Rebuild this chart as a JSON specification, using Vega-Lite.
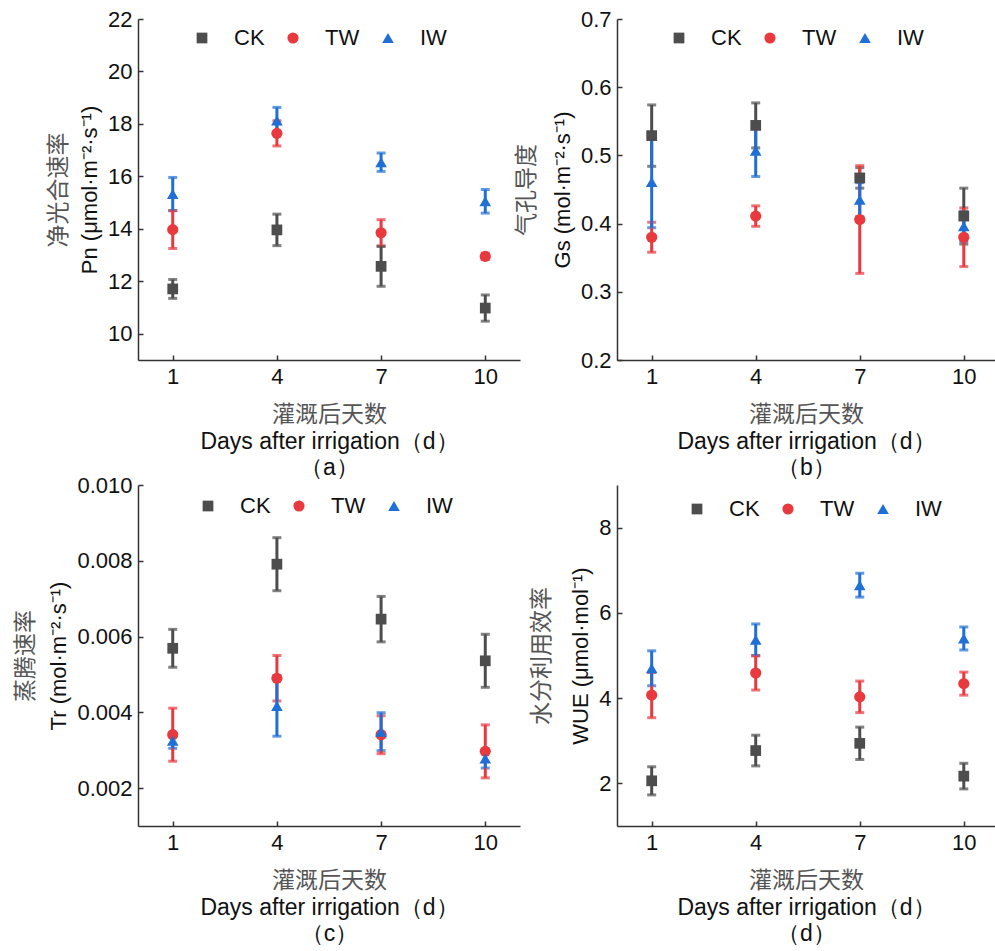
{
  "$schema": "https://vega.github.io/schema/vega-lite/v6.json",
  "padding": {"left": 14, "top": 8, "right": 0, "bottom": 0},
  "background": "white",
  "datasets": {
    "a": [
      {"day": 1, "group": "CK", "mean": 11.71, "sd": 0.36},
      {"day": 4, "group": "CK", "mean": 13.96, "sd": 0.6},
      {"day": 7, "group": "CK", "mean": 12.57, "sd": 0.76},
      {"day": 10, "group": "CK", "mean": 10.98, "sd": 0.5},
      {"day": 1, "group": "TW", "mean": 13.97, "sd": 0.72},
      {"day": 4, "group": "TW", "mean": 17.64, "sd": 0.48},
      {"day": 7, "group": "TW", "mean": 13.85, "sd": 0.5},
      {"day": 10, "group": "TW", "mean": 12.95, "sd": 0.12},
      {"day": 1, "group": "IW", "mean": 15.33, "sd": 0.63},
      {"day": 4, "group": "IW", "mean": 18.13, "sd": 0.5},
      {"day": 7, "group": "IW", "mean": 16.54, "sd": 0.35},
      {"day": 10, "group": "IW", "mean": 15.05, "sd": 0.45}
    ],
    "b": [
      {"day": 1, "group": "CK", "mean": 0.529, "sd": 0.045},
      {"day": 4, "group": "CK", "mean": 0.544, "sd": 0.033},
      {"day": 7, "group": "CK", "mean": 0.467, "sd": 0.015},
      {"day": 10, "group": "CK", "mean": 0.411, "sd": 0.041},
      {"day": 1, "group": "TW", "mean": 0.380, "sd": 0.022},
      {"day": 4, "group": "TW", "mean": 0.411, "sd": 0.015},
      {"day": 7, "group": "TW", "mean": 0.406, "sd": 0.079},
      {"day": 10, "group": "TW", "mean": 0.380, "sd": 0.043},
      {"day": 1, "group": "IW", "mean": 0.461, "sd": 0.067},
      {"day": 4, "group": "IW", "mean": 0.507, "sd": 0.038},
      {"day": 7, "group": "IW", "mean": 0.435, "sd": 0.025},
      {"day": 10, "group": "IW", "mean": 0.396, "sd": 0.022}
    ],
    "c": [
      {"day": 1, "group": "CK", "mean": 0.00569, "sd": 0.0005},
      {"day": 4, "group": "CK", "mean": 0.00791, "sd": 0.0007},
      {"day": 7, "group": "CK", "mean": 0.00646, "sd": 0.0006},
      {"day": 10, "group": "CK", "mean": 0.00536, "sd": 0.0007},
      {"day": 1, "group": "TW", "mean": 0.00341, "sd": 0.0007},
      {"day": 4, "group": "TW", "mean": 0.0049, "sd": 0.0006},
      {"day": 7, "group": "TW", "mean": 0.00341, "sd": 0.0005},
      {"day": 10, "group": "TW", "mean": 0.00297, "sd": 0.0007},
      {"day": 1, "group": "IW", "mean": 0.00325, "sd": 0.0002},
      {"day": 4, "group": "IW", "mean": 0.00417, "sd": 0.0008},
      {"day": 7, "group": "IW", "mean": 0.00349, "sd": 0.0005},
      {"day": 10, "group": "IW", "mean": 0.00278, "sd": 0.00025}
    ],
    "d": [
      {"day": 1, "group": "CK", "mean": 2.06, "sd": 0.33},
      {"day": 4, "group": "CK", "mean": 2.77, "sd": 0.36},
      {"day": 7, "group": "CK", "mean": 2.94, "sd": 0.38},
      {"day": 10, "group": "CK", "mean": 2.17, "sd": 0.3},
      {"day": 1, "group": "TW", "mean": 4.07, "sd": 0.53},
      {"day": 4, "group": "TW", "mean": 4.59, "sd": 0.4},
      {"day": 7, "group": "TW", "mean": 4.03, "sd": 0.37},
      {"day": 10, "group": "TW", "mean": 4.34, "sd": 0.27},
      {"day": 1, "group": "IW", "mean": 4.70, "sd": 0.41},
      {"day": 4, "group": "IW", "mean": 5.37, "sd": 0.37},
      {"day": 7, "group": "IW", "mean": 6.65, "sd": 0.28},
      {"day": 10, "group": "IW", "mean": 5.40, "sd": 0.27}
    ]
  },
  "columns": 2,
  "align": "each",
  "spacing": {"row": -5, "column": -5},
  "resolve": {"scale": {"color": "independent", "shape": "independent", "size": "independent"}, "legend": {"color": "independent", "shape": "independent", "size": "independent"}},
  "concat": [
    {
      "width": 382, "height": 341,
      "data": {"name": "a"},
      "layer": [
        {
          "mark": {"type": "errorbar", "ticks": {"size": 9, "thickness": 3}, "rule": {"strokeWidth": 3}},
          "encoding": {
            "x": {"field": "day", "type": "quantitative", "scale": {"domain": [0, 11], "nice": false, "zero": false},
                  "axis": {"values": [1, 4, 7, 10], "title": "灌溉后天数", "titleFont": "Noto Sans CJK SC", "titleFontSize": 23, "titleColor": "#555555", "titlePadding": 16}},
            "y": {"field": "mean", "type": "quantitative", "scale": {"domain": [9, 22], "nice": false, "zero": false},
                  "axis": {"values": [10, 12, 14, 16, 18, 20, 22], "format": "d", "title": "Pn (μmol·m⁻²·s⁻¹)"}},
            "yError": {"field": "sd"},
            "color": {"field": "group", "type": "nominal", "scale": {"domain": ["CK", "TW", "IW"], "range": ["#4d4d4d", "#e8393f", "#1f6fd6"]},
                      "legend": {"orient": "none", "legendX": 53, "legendY": 8, "direction": "horizontal", "title": null}}
          }
        },
        {
          "mark": {"type": "point", "filled": true, "opacity": 1},
          "encoding": {
            "x": {"field": "day", "type": "quantitative",
                  "axis": {"orient": "bottom", "labels": false, "ticks": false, "domain": false, "title": ["Days after irrigation（d）", "（a）"], "titleFontSize": 23, "titlePadding": 70, "titleLineHeight": 26}},
            "y": {"field": "mean", "type": "quantitative",
                  "axis": {"orient": "left", "labels": false, "ticks": false, "domain": false, "title": "净光合速率", "titleFont": "Noto Sans CJK SC", "titleFontSize": 23, "titleColor": "#555555", "titlePadding": 68}},
            "color": {"field": "group", "type": "nominal", "scale": {"domain": ["CK", "TW", "IW"], "range": ["#4d4d4d", "#e8393f", "#1f6fd6"]},
                      "legend": {"orient": "none", "legendX": 53, "legendY": 8, "direction": "horizontal", "title": null}},
            "shape": {"field": "group", "type": "nominal", "scale": {"domain": ["CK", "TW", "IW"], "range": ["square", "circle", "triangle-up"]},
                      "legend": {"orient": "none", "legendX": 53, "legendY": 8, "direction": "horizontal", "title": null}},
            "size": {"field": "group", "type": "nominal", "scale": {"domain": ["CK", "TW", "IW"], "range": [115, 135, 220]},
                      "legend": {"orient": "none", "legendX": 53, "legendY": 8, "direction": "horizontal", "title": null}}
          }
        }
      ],
      "resolve": {"axis": {"x": "independent", "y": "independent"}}
    },
    {
      "width": 378, "height": 341,
      "data": {"name": "b"},
      "layer": [
        {
          "mark": {"type": "errorbar", "ticks": {"size": 9, "thickness": 3}, "rule": {"strokeWidth": 3}},
          "encoding": {
            "x": {"field": "day", "type": "quantitative", "scale": {"domain": [0, 10.9], "nice": false, "zero": false},
                  "axis": {"values": [1, 4, 7, 10], "title": "灌溉后天数", "titleFont": "Noto Sans CJK SC", "titleFontSize": 23, "titleColor": "#555555", "titlePadding": 16}},
            "y": {"field": "mean", "type": "quantitative", "scale": {"domain": [0.2, 0.7], "nice": false, "zero": false},
                  "axis": {"values": [0.2, 0.3, 0.4, 0.5, 0.6, 0.7], "format": ".1f", "title": "Gs (mol·m⁻²·s⁻¹)"}},
            "yError": {"field": "sd"},
            "color": {"field": "group", "type": "nominal", "scale": {"domain": ["CK", "TW", "IW"], "range": ["#4d4d4d", "#e8393f", "#1f6fd6"]},
                      "legend": {"orient": "none", "legendX": 51, "legendY": 8, "direction": "horizontal", "title": null}}
          }
        },
        {
          "mark": {"type": "point", "filled": true, "opacity": 1},
          "encoding": {
            "x": {"field": "day", "type": "quantitative",
                  "axis": {"orient": "bottom", "labels": false, "ticks": false, "domain": false, "title": ["Days after irrigation（d）", "（b）"], "titleFontSize": 23, "titlePadding": 70, "titleLineHeight": 26}},
            "y": {"field": "mean", "type": "quantitative",
                  "axis": {"orient": "left", "labels": false, "ticks": false, "domain": false, "title": "气孔导度", "titleFont": "Noto Sans CJK SC", "titleFontSize": 23, "titleColor": "#555555", "titlePadding": 79}},
            "color": {"field": "group", "type": "nominal", "scale": {"domain": ["CK", "TW", "IW"], "range": ["#4d4d4d", "#e8393f", "#1f6fd6"]},
                      "legend": {"orient": "none", "legendX": 51, "legendY": 8, "direction": "horizontal", "title": null}},
            "shape": {"field": "group", "type": "nominal", "scale": {"domain": ["CK", "TW", "IW"], "range": ["square", "circle", "triangle-up"]},
                      "legend": {"orient": "none", "legendX": 51, "legendY": 8, "direction": "horizontal", "title": null}},
            "size": {"field": "group", "type": "nominal", "scale": {"domain": ["CK", "TW", "IW"], "range": [115, 135, 220]},
                      "legend": {"orient": "none", "legendX": 51, "legendY": 8, "direction": "horizontal", "title": null}}
          }
        }
      ],
      "resolve": {"axis": {"x": "independent", "y": "independent"}}
    },
    {
      "width": 382, "height": 341,
      "data": {"name": "c"},
      "layer": [
        {
          "mark": {"type": "errorbar", "ticks": {"size": 9, "thickness": 3}, "rule": {"strokeWidth": 3}},
          "encoding": {
            "x": {"field": "day", "type": "quantitative", "scale": {"domain": [0, 11], "nice": false, "zero": false},
                  "axis": {"values": [1, 4, 7, 10], "title": "灌溉后天数", "titleFont": "Noto Sans CJK SC", "titleFontSize": 23, "titleColor": "#555555", "titlePadding": 16}},
            "y": {"field": "mean", "type": "quantitative", "scale": {"domain": [0.001, 0.010], "nice": false, "zero": false},
                  "axis": {"values": [0.002, 0.004, 0.006, 0.008, 0.010], "format": ".3f", "title": "Tr (mol·m⁻²·s⁻¹)"}},
            "yError": {"field": "sd"},
            "color": {"field": "group", "type": "nominal", "scale": {"domain": ["CK", "TW", "IW"], "range": ["#4d4d4d", "#e8393f", "#1f6fd6"]},
                      "legend": {"orient": "none", "legendX": 59, "legendY": 10, "direction": "horizontal", "title": null}}
          }
        },
        {
          "mark": {"type": "point", "filled": true, "opacity": 1},
          "encoding": {
            "x": {"field": "day", "type": "quantitative",
                  "axis": {"orient": "bottom", "labels": false, "ticks": false, "domain": false, "title": ["Days after irrigation（d）", "（c）"], "titleFontSize": 23, "titlePadding": 70, "titleLineHeight": 26}},
            "y": {"field": "mean", "type": "quantitative",
                  "axis": {"orient": "left", "labels": false, "ticks": false, "domain": false, "title": "蒸腾速率", "titleFont": "Noto Sans CJK SC", "titleFontSize": 23, "titleColor": "#555555", "titlePadding": 101}},
            "color": {"field": "group", "type": "nominal", "scale": {"domain": ["CK", "TW", "IW"], "range": ["#4d4d4d", "#e8393f", "#1f6fd6"]},
                      "legend": {"orient": "none", "legendX": 59, "legendY": 10, "direction": "horizontal", "title": null}},
            "shape": {"field": "group", "type": "nominal", "scale": {"domain": ["CK", "TW", "IW"], "range": ["square", "circle", "triangle-up"]},
                      "legend": {"orient": "none", "legendX": 59, "legendY": 10, "direction": "horizontal", "title": null}},
            "size": {"field": "group", "type": "nominal", "scale": {"domain": ["CK", "TW", "IW"], "range": [115, 135, 220]},
                      "legend": {"orient": "none", "legendX": 59, "legendY": 10, "direction": "horizontal", "title": null}}
          }
        }
      ],
      "resolve": {"axis": {"x": "independent", "y": "independent"}}
    },
    {
      "width": 378, "height": 341,
      "data": {"name": "d"},
      "layer": [
        {
          "mark": {"type": "errorbar", "ticks": {"size": 9, "thickness": 3}, "rule": {"strokeWidth": 3}},
          "encoding": {
            "x": {"field": "day", "type": "quantitative", "scale": {"domain": [0, 10.9], "nice": false, "zero": false},
                  "axis": {"values": [1, 4, 7, 10], "title": "灌溉后天数", "titleFont": "Noto Sans CJK SC", "titleFontSize": 23, "titleColor": "#555555", "titlePadding": 16}},
            "y": {"field": "mean", "type": "quantitative", "scale": {"domain": [1, 9], "nice": false, "zero": false},
                  "axis": {"values": [2, 4, 6, 8], "format": "d", "title": "WUE (μmol·mol⁻¹)"}},
            "yError": {"field": "sd"},
            "color": {"field": "group", "type": "nominal", "scale": {"domain": ["CK", "TW", "IW"], "range": ["#4d4d4d", "#e8393f", "#1f6fd6"]},
                      "legend": {"orient": "none", "legendX": 69, "legendY": 13, "direction": "horizontal", "title": null}}
          }
        },
        {
          "mark": {"type": "point", "filled": true, "opacity": 1},
          "encoding": {
            "x": {"field": "day", "type": "quantitative",
                  "axis": {"orient": "bottom", "labels": false, "ticks": false, "domain": false, "title": ["Days after irrigation（d）", "（d）"], "titleFontSize": 23, "titlePadding": 70, "titleLineHeight": 26}},
            "y": {"field": "mean", "type": "quantitative",
                  "axis": {"orient": "left", "labels": false, "ticks": false, "domain": false, "title": "水分利用效率", "titleFont": "Noto Sans CJK SC", "titleFontSize": 23, "titleColor": "#555555", "titlePadding": 64}},
            "color": {"field": "group", "type": "nominal", "scale": {"domain": ["CK", "TW", "IW"], "range": ["#4d4d4d", "#e8393f", "#1f6fd6"]},
                      "legend": {"orient": "none", "legendX": 69, "legendY": 13, "direction": "horizontal", "title": null}},
            "shape": {"field": "group", "type": "nominal", "scale": {"domain": ["CK", "TW", "IW"], "range": ["square", "circle", "triangle-up"]},
                      "legend": {"orient": "none", "legendX": 69, "legendY": 13, "direction": "horizontal", "title": null}},
            "size": {"field": "group", "type": "nominal", "scale": {"domain": ["CK", "TW", "IW"], "range": [115, 135, 220]},
                      "legend": {"orient": "none", "legendX": 69, "legendY": 13, "direction": "horizontal", "title": null}}
          }
        }
      ],
      "resolve": {"axis": {"x": "independent", "y": "independent"}}
    }
  ],
  "config": {
    "view": {"stroke": null},
    "font": "Liberation Sans",
    "axis": {
      "grid": false,
      "domainColor": "#333333", "domainWidth": 1.5,
      "tickColor": "#333333", "tickWidth": 1.5, "tickSize": -5,
      "labelFont": "Liberation Sans", "labelFontSize": 22, "labelColor": "#111111", "labelPadding": 11,
      "titleFont": "Liberation Sans", "titleFontSize": 22, "titleFontWeight": "normal", "titleColor": "#111111", "titlePadding": 6
    },
    "legend": {
      "padding": 0,
      "labelFont": "Liberation Sans", "labelFontSize": 22, "labelColor": "#111111",
      "labelOffset": 21, "columnPadding": 17, "symbolStrokeWidth": 0, "symbolOpacity": 1
    }
  }
}
